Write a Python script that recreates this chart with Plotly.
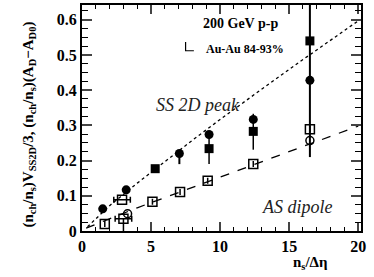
import plotly.graph_objects as go

# SS 2D peak (filled markers)
ss_circ_x = [1.5, 3.2, 7.05, 9.2, 12.4, 16.5]
ss_circ_y = [0.063, 0.117, 0.22, 0.274, 0.317, 0.428]
ss_circ_eup = [0.0, 0.0, 0.008, 0.0, 0.0, 0.23]
ss_circ_edn = [0.0, 0.0, 0.03, 0.0, 0.0, 0.218]

ss_sq_x = [5.3, 9.2, 12.4, 16.5]
ss_sq_y = [0.177, 0.234, 0.283, 0.54]
ss_sq_eup = [0.0, 0.04, 0.05, 0.0]
ss_sq_edn = [0.0, 0.044, 0.052, 0.0]

# AS dipole (open markers)
as_sq_x = [1.65, 2.9, 3.0, 5.1, 7.1, 9.1, 12.4, 16.5]
as_sq_y = [0.02, 0.089, 0.035, 0.083, 0.111, 0.143, 0.19, 0.289]
as_sq_ex = [0.0, 0.6, 0.6, 0.0, 0.0, 0.0, 0.0, 0.0]
as_sq_edn = [0.0, 0.0, 0.035, 0.0, 0.0, 0.0, 0.0, 0.0]

as_circ_x = [3.3, 16.5]
as_circ_y = [0.049, 0.257]

# trend curves
ss_line_x = [0.4, 2, 4, 6, 8, 10, 12, 14, 16, 18, 20]
ss_line_y = [0.012, 0.072, 0.136, 0.198, 0.258, 0.317, 0.375, 0.431, 0.487, 0.542, 0.597]
as_line_x = [0.3, 2, 4, 6, 8, 10, 12, 14, 16, 18, 20]
as_line_y = [0.008, 0.035, 0.066, 0.095, 0.124, 0.153, 0.182, 0.212, 0.24, 0.27, 0.298]

x_ticks = [0, 5, 10, 15, 20]
y_ticks = [0, 0.1, 0.2, 0.3, 0.4, 0.5, 0.6]
y_tick_text = ["0", "0.1", "0.2", "0.3", "0.4", "0.5", "0.6"]

fig = go.Figure()
fig.add_trace(go.Scatter(x=ss_line_x, y=ss_line_y, mode="lines",
                         line=dict(color="black", width=1.3, dash="dot"), showlegend=False))
fig.add_trace(go.Scatter(x=as_line_x, y=as_line_y, mode="lines",
                         line=dict(color="black", width=1.3, dash="dash"), showlegend=False))
fig.add_trace(go.Scatter(x=ss_circ_x, y=ss_circ_y, mode="markers",
                         marker=dict(symbol="circle", size=9, color="black"),
                         error_y=dict(type="data", symmetric=False, array=ss_circ_eup,
                                      arrayminus=ss_circ_edn, color="black", thickness=2, width=0),
                         showlegend=False))
fig.add_trace(go.Scatter(x=ss_sq_x, y=ss_sq_y, mode="markers",
                         marker=dict(symbol="square", size=9, color="black"),
                         error_y=dict(type="data", symmetric=False, array=ss_sq_eup,
                                      arrayminus=ss_sq_edn, color="black", thickness=1.5, width=0),
                         showlegend=False))
fig.add_trace(go.Scatter(x=as_sq_x, y=as_sq_y, mode="markers",
                         marker=dict(symbol="square-open", size=9, color="black",
                                     line=dict(width=1.5)),
                         error_x=dict(type="data", array=as_sq_ex, color="black", thickness=1.5, width=3),
                         error_y=dict(type="data", symmetric=False, array=[0]*len(as_sq_x),
                                      arrayminus=as_sq_edn, color="black", thickness=1.5, width=0),
                         showlegend=False))
fig.add_trace(go.Scatter(x=as_circ_x, y=as_circ_y, mode="markers",
                         marker=dict(symbol="circle-open", size=8, color="black",
                                     line=dict(width=1.5)),
                         showlegend=False))

serif = "Liberation Serif, Times New Roman, Times, serif"
fig.update_layout(
    width=374, height=277,
    margin=dict(l=82, r=13, t=3, b=46),
    paper_bgcolor="white", plot_bgcolor="white",
    font=dict(family=serif, color="black"),
    xaxis=dict(range=[0, 20.2], tickvals=x_ticks, ticktext=["<b>%d</b>" % v for v in x_ticks],
               ticks="inside", ticklen=9, tickwidth=1.5, showline=True, linewidth=2,
               linecolor="black", mirror="allticks", showgrid=False, zeroline=False,
               tickfont=dict(family=serif, size=16, color="black"),
               minor=dict(dtick=1, ticks="inside", ticklen=4, tickwidth=1, tickcolor="black")),
    yaxis=dict(range=[0, 0.642], tickvals=y_ticks, ticktext=["<b>%s</b>" % t for t in y_tick_text],
               ticks="inside", ticklen=10, tickwidth=1.5, showline=True, linewidth=2,
               linecolor="black", mirror="allticks", showgrid=False, zeroline=False,
               tickfont=dict(family=serif, size=16, color="black"),
               minor=dict(dtick=0.025, ticks="inside", ticklen=6, tickwidth=1, tickcolor="black")),
)

fig.add_annotation(x=11.5, y=0.589, xref="x", yref="y", text="<b>200 GeV p-p</b>",
                   showarrow=False, font=dict(family=serif, size=14))
# small L-shaped legend glyph
fig.add_shape(type="path", xref="x", yref="y", path="M 7.5 0.537 L 7.5 0.512 L 8.1 0.512",
              line=dict(color="black", width=1.2))
fig.add_annotation(x=8.8, y=0.518, xref="x", yref="y", text="<b>Au-Au 84-93%</b>",
                   showarrow=False, xanchor="left", font=dict(family=serif, size=12))
fig.add_annotation(x=5.2, y=0.358, xref="x", yref="y", text="<i>SS 2D peak</i>",
                   showarrow=False, xanchor="left", font=dict(family=serif, size=18, color="#222"))
fig.add_annotation(x=12.9, y=0.067, xref="x", yref="y", text="<i>AS dipole</i>",
                   showarrow=False, xanchor="left", font=dict(family=serif, size=18, color="#222"))
fig.add_annotation(x=0.89, y=-0.19, xref="paper", yref="paper",
                   text="<b>n<sub>s</sub>/\u0394\u03b7</b>", showarrow=False,
                   font=dict(family=serif, size=15))
fig.add_annotation(x=-0.23, y=0.47, xref="paper", yref="paper", textangle=-90,
                   text="<b>(n<sub>ch</sub>/n<sub>s</sub>)V<sub>SS2D</sub>/3, (n<sub>ch</sub>/n<sub>s</sub>)(A<sub>D</sub>\u2212A<sub>D0</sub>)</b>",
                   showarrow=False, font=dict(family=serif, size=15))

fig.write_html("out.html", config={"displayModeBar": False},
               post_script="document.body.style.margin='0';document.body.style.padding='0';")
